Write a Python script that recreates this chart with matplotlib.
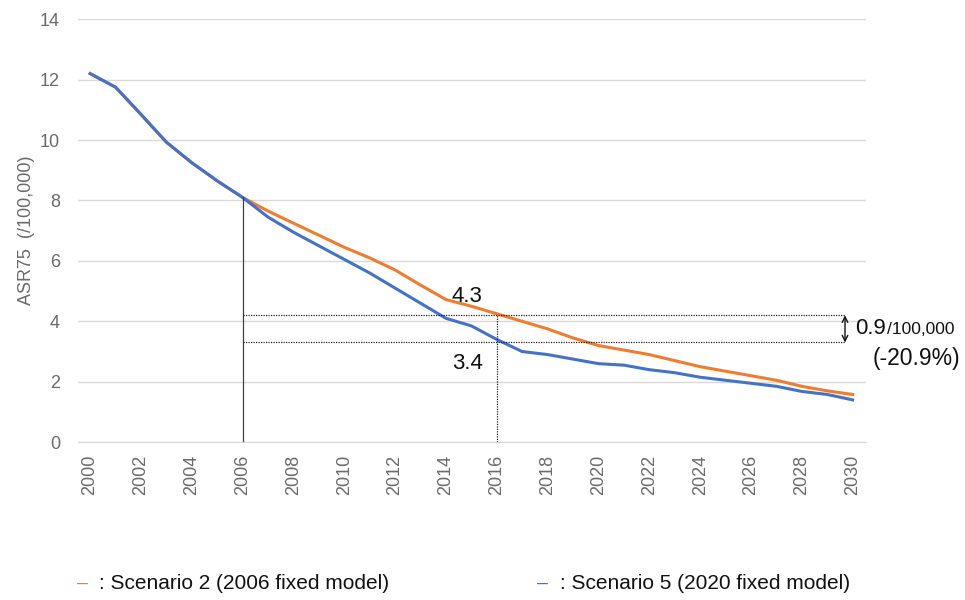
import matplotlib
matplotlib.use("Agg")
import matplotlib.pyplot as plt
from matplotlib.ticker import MultipleLocator

plt.rcParams['font.family'] = ['Liberation Sans', 'DejaVu Sans']

years = list(range(2000, 2031))
scenario2 = [12.2, 11.75, 10.85, 9.93, 9.25, 8.65, 8.1,
             7.65, 7.25, 6.85, 6.45, 6.1, 5.7, 5.2, 4.72, 4.5, 4.25,
             4.0, 3.75, 3.45, 3.2, 3.05, 2.9, 2.7, 2.5, 2.35, 2.2, 2.05, 1.85, 1.7, 1.58]
scenario5 = [12.2, 11.75, 10.85, 9.93, 9.25, 8.65, 8.1,
             7.45, 6.95, 6.5, 6.05, 5.6, 5.1, 4.6, 4.1, 3.85, 3.4,
             3.0, 2.9, 2.75, 2.6, 2.55, 2.4, 2.3, 2.15, 2.05, 1.95, 1.85, 1.68, 1.58, 1.4]
xticks = list(range(2000, 2031, 2))
label_s2 = "Scenario 2 (2006 fixed model)"
label_s5 = "Scenario 5 (2020 fixed model)"
ref_high, ref_low = 4.2, 3.3
start_year, mid_year, start_val = 2006, 2016, 8.1
end_dotted = 2029.7

orange = "#ED7D31"
blue = "#4472C4"

fig = plt.figure(figsize=(9.65, 6.0), dpi=100)
ax = fig.add_axes([0.081, 0.263, 0.816, 0.705])

ax.plot(years, scenario2, color=orange, lw=2.2, solid_joinstyle='round')
ax.plot(years, scenario5, color=blue, lw=2.2, solid_joinstyle='round')

ax.set_xlim(1999.53, 2030.51)
ax.set_ylim(0, 14)
ax.yaxis.set_major_locator(MultipleLocator(2))
ax.set_xticks(xticks)
ax.set_xticklabels([str(x) for x in xticks], rotation=90)
ax.grid(axis='y', color='#d9d9d9', lw=1)
ax.set_axisbelow(True)
for s in ax.spines.values():
    s.set_visible(False)
ax.spines['bottom'].set_visible(True)
ax.spines['bottom'].set_color('#d9d9d9')
ax.tick_params(axis='y', length=0, labelsize=13, colors='#6a6a6a', pad=13)
ax.tick_params(axis='x', length=0, labelsize=13, colors='#6a6a6a', pad=9)
ax.set_ylabel("ASR75  (/100,000)", fontsize=13, color='#6a6a6a', labelpad=3.5)

# reference lines
ax.plot([start_year, start_year], [0, start_val], color='#404040', lw=0.9)
ax.plot([mid_year, mid_year], [0, ref_high], color='#202020', lw=0.9, ls=(0, (1, 1)))
ax.plot([start_year, end_dotted], [ref_high, ref_high], color='#202020', lw=0.9, ls=(0, (1, 1)))
ax.plot([start_year, end_dotted], [ref_low, ref_low], color='#202020', lw=0.9, ls=(0, (1, 1)))

ax.text(2014.83, 4.81, "4.3", fontsize=16, color='#111111', ha='center', va='center')
ax.text(2014.83, 2.62, "3.4", fontsize=16, color='#111111', ha='center', va='center')

ax.annotate("", xy=(end_dotted, ref_high), xytext=(end_dotted, ref_low),
            arrowprops=dict(arrowstyle='<->', color='#111111', lw=1.0,
                            shrinkA=0, shrinkB=0, mutation_scale=10))
fig.text(0.886, 0.453, "0.9", fontsize=16, color='#111111', ha='left', va='center')
fig.text(0.919, 0.451, "/100,000", fontsize=12.5, color='#111111', ha='left', va='center')
fig.text(0.995, 0.403, "(-20.9%)", fontsize=16.5, color='#111111', ha='right', va='center')

# legend-like text
fig.text(0.080, 0.028, "\u2013", color=orange, fontsize=14, ha='left', va='center')
fig.text(0.103, 0.028, ": " + label_s2, color='#111111', fontsize=15, ha='left', va='center')
fig.text(0.556, 0.028, "\u2013", color=blue, fontsize=14, ha='left', va='center')
fig.text(0.580, 0.028, ": " + label_s5, color='#111111', fontsize=15, ha='left', va='center')

fig.savefig("out.png", dpi=100)
